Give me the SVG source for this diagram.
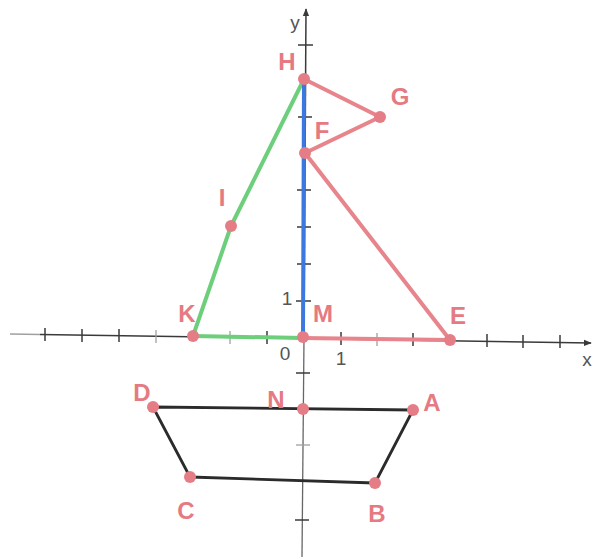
<svg xmlns="http://www.w3.org/2000/svg" width="593" height="559" viewBox="0 0 593 559">
<defs>
<style>
.axis{stroke:#3a3a3a;stroke-width:1.5;fill:none}
.axis2{stroke:#666;stroke-width:1.3;fill:none}
.tick{stroke:#3a3a3a;stroke-width:1.5}
.faint{stroke:#a0a0a0;stroke-width:1.3}
.red{stroke:#e8848b;stroke-width:4;fill:none;stroke-linecap:round;stroke-linejoin:round}
.green{stroke:#6dcf7c;stroke-width:4;fill:none;stroke-linecap:round;stroke-linejoin:round}
.blue{stroke:#3d78e0;stroke-width:4;fill:none;stroke-linecap:round}
.black{stroke:#2b2b2b;stroke-width:2.8;fill:none;stroke-linejoin:round}
.pt{fill:#e57d86}
.lbl{font-family:"Liberation Sans",Arial,sans-serif;font-weight:bold;font-size:24px;fill:#e57a82;text-anchor:middle;dominant-baseline:central}
.num{font-family:"Liberation Sans",Arial,sans-serif;font-size:19px;fill:#555;text-anchor:middle;dominant-baseline:central}
</style>
<marker id="arr" viewBox="0 0 10 10" refX="9" refY="5" markerWidth="8" markerHeight="8" orient="auto" markerUnits="userSpaceOnUse">
<path d="M0,1 L10,5 L0,9 Z" fill="#3a3a3a"/>
</marker>
</defs>
<rect width="593" height="559" fill="#ffffff"/>
<g id="axes">
<line class="faint" x1="10" y1="334" x2="40" y2="334.5"/>
<line class="axis" x1="40" y1="334.5" x2="591" y2="343" marker-end="url(#arr)"/>
<line class="axis" x1="304" y1="338" x2="306" y2="9" marker-end="url(#arr)"/>
<line class="axis2" x1="304" y1="338" x2="302" y2="557"/>
<g class="tick">
<line x1="45" y1="328" x2="45" y2="341"/>
<line x1="82" y1="329" x2="82" y2="342"/>
<line x1="119" y1="329" x2="119" y2="342"/>
<line x1="267" y1="331" x2="267" y2="344"/>
<line x1="341" y1="332" x2="341" y2="345"/>
<line x1="413" y1="333" x2="413" y2="346"/>
<line x1="487" y1="334" x2="487" y2="347"/>
<line x1="523" y1="335" x2="523" y2="348"/>
<line x1="560" y1="335" x2="560" y2="348"/>
<line x1="298" y1="45" x2="313" y2="45"/>
<line x1="298" y1="117" x2="312" y2="117"/>
<line x1="297" y1="190" x2="311" y2="190"/>
<line x1="297" y1="227" x2="311" y2="227"/>
<line x1="297" y1="264" x2="311" y2="264"/>
<line x1="296" y1="301" x2="311" y2="301"/>
<line x1="296" y1="373" x2="310" y2="373"/>
<line x1="295" y1="520" x2="309" y2="520"/>
</g>
<g class="faint">
<line x1="156" y1="330" x2="156" y2="343"/>
<line x1="230" y1="331" x2="230" y2="344"/>
<line x1="377" y1="333" x2="377" y2="346"/>
<line x1="296" y1="445" x2="310" y2="445"/>
</g>
<text class="num" x="295" y="22">y</text>
<text class="num" x="587" y="359">x</text>
<text class="num" x="285" y="353">0</text>
<text class="num" x="341" y="358">1</text>
<text class="num" x="287" y="298">1</text>
</g>
<g id="connectors">
<polyline class="green" points="193,336 231,226 304,79"/>
<line class="green" x1="193" y1="336" x2="303" y2="338"/>
<line class="red" x1="303" y1="338" x2="450" y2="340"/>
<polyline class="red" points="304,79 380,117 305,153 450,340"/>
<line class="blue" x1="303" y1="337" x2="304" y2="80"/>
<polygon class="black" points="153,407 413,410 375,483 190,477"/>
</g>
<g id="H"><circle class="pt" cx="304" cy="79" r="6"/><text class="lbl" x="287" y="61">H</text></g>
<g id="G"><circle class="pt" cx="380" cy="117" r="6"/><text class="lbl" x="400" y="96">G</text></g>
<g id="F"><circle class="pt" cx="305" cy="153" r="6"/><text class="lbl" x="322" y="130">F</text></g>
<g id="I"><circle class="pt" cx="231" cy="226" r="6"/><text class="lbl" x="222" y="197">I</text></g>
<g id="K"><circle class="pt" cx="193" cy="336" r="6"/><text class="lbl" x="187" y="313">K</text></g>
<g id="M"><circle class="pt" cx="303" cy="337" r="6"/><text class="lbl" x="323" y="313">M</text></g>
<g id="E"><circle class="pt" cx="450" cy="340" r="6"/><text class="lbl" x="458" y="315">E</text></g>
<g id="N"><circle class="pt" cx="303" cy="409" r="6"/><text class="lbl" x="276" y="399">N</text></g>
<g id="A"><circle class="pt" cx="413" cy="410" r="6"/><text class="lbl" x="432" y="402">A</text></g>
<g id="D"><circle class="pt" cx="153" cy="407" r="6"/><text class="lbl" x="142" y="392">D</text></g>
<g id="C"><circle class="pt" cx="190" cy="477" r="6"/><text class="lbl" x="186" y="510">C</text></g>
<g id="B"><circle class="pt" cx="375" cy="483" r="6"/><text class="lbl" x="377" y="513">B</text></g>
</svg>
